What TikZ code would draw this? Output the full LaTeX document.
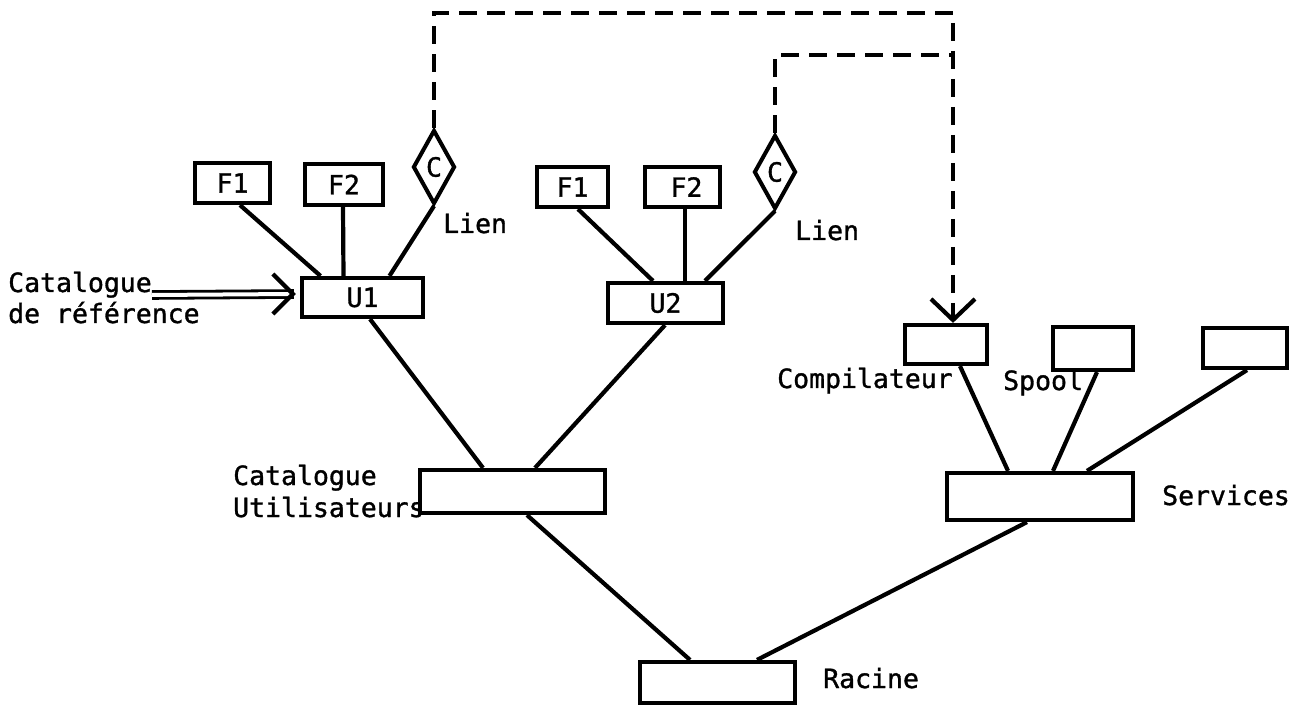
\documentclass[tikz,border=0pt]{standalone}
\usepackage{fontspec}
\usetikzlibrary{shapes.geometric,arrows.meta}
\newfontfamily\monofam[FakeBold=1.2]{DejaVu Sans Mono}
\newcommand\lbfont{\monofam\fontsize{26.5pt}{30pt}\selectfont}
\tikzset{
  box/.style={draw, line width=4.2pt, inner sep=0pt, font=\lbfont},
  lien/.style={draw, diamond, line width=4pt, inner sep=0pt, font=\lbfont, minimum width=42pt, minimum height=74pt},
  edge/.style={line width=4.2pt},
  dashlink/.style={line width=3.6pt, dash pattern=on 18pt off 10pt},
  lbl/.style={font=\lbfont, inner sep=0pt}
}
\begin{document}
\begin{tikzpicture}[x=1pt,y=-1pt]
\useasboundingbox (0,0) rectangle (1291,711);

% left user subtree
\node[box, minimum width=75pt, minimum height=40pt] (F1a) at (232.5,183) {F1};
\node[box, minimum width=78pt, minimum height=41pt] (F2a) at (344,184.5) {F2};
\node[lien] (Ca) at (434,167) {C};
\node[box, minimum width=121pt, minimum height=39pt] (U1) at (362.5,297.5) {U1};

% right user subtree
\node[box, minimum width=71pt, minimum height=40pt] (F1b) at (572.5,187) {F1};
\node[box, minimum width=75pt, minimum height=40pt] (F2b) at (682.5,187) {\hspace*{8pt}F2};
\node[lien] (Cb) at (775,172) {C};
\node[box, minimum width=115pt, minimum height=40pt] (U2) at (665.5,303) {U2};

% catalogue, racine, services
\node[box, minimum width=185pt, minimum height=43pt] (CU) at (512.5,491.5) {};
\node[box, minimum width=155pt, minimum height=41pt] (Rac) at (717.5,682.5) {};
\node[box, minimum width=82pt, minimum height=39pt] (Comp) at (946,344.5) {};
\node[box, minimum width=80pt, minimum height=43pt] (Spool) at (1093,348.5) {};
\node[box, minimum width=84pt, minimum height=40pt] (Third) at (1245,348) {};
\node[box, minimum width=186pt, minimum height=47pt] (Serv) at (1040,496.5) {};

% labels
\node[lbl, anchor=base west] (catref1) at (8,292) {Catalogue};
\node[lbl, anchor=base west] (catref2) at (8,323) {de référence};
\node[lbl, anchor=base west] (lienA) at (443,233) {Lien};
\node[lbl, anchor=base west] (lienB) at (795,240) {Lien};
\node[lbl, anchor=base west] (cu1) at (233,485) {Catalogue};
\node[lbl, anchor=base west] (cu2) at (233,517) {Utilisateurs};
\node[lbl, anchor=base west] (compl) at (777,388) {Compilateur};
\node[lbl, anchor=base west] (spooll) at (1003,390) {Spool};
\node[lbl, anchor=base west] (servl) at (1162,505) {Services};
\node[lbl, anchor=base west] (racl) at (823,688) {Racine};

% tree edges
\draw[edge] ([xshift=7.5pt]F1a.south) -- ([xshift=-42pt]U1.north);
\draw[edge] ([xshift=-1pt]F2a.south) -- ([xshift=-19pt]U1.north);
\draw[edge] (Ca.south) -- ([xshift=27pt]U1.north);
\draw[edge] ([xshift=5.5pt]F1b.south) -- ([xshift=-12.5pt]U2.north);
\draw[edge] ([xshift=2.5pt]F2b.south) -- ([xshift=19.5pt]U2.north);
\draw[edge] (Cb.south) -- ([xshift=39.5pt]U2.north);
\draw[edge] ([xshift=7.5pt]U1.south) -- ([xshift=-29.5pt]CU.north);
\draw[edge] ([xshift=-0.5pt]U2.south) -- ([xshift=22.5pt]CU.north);
\draw[edge] ([xshift=14.5pt]CU.south) -- ([xshift=-27.5pt]Rac.north);
\draw[edge] ([xshift=-13pt]Serv.south) -- ([xshift=39.5pt]Rac.north);
\draw[edge] ([xshift=14pt]Comp.south) -- ([xshift=-32pt]Serv.north);
\draw[edge] ([xshift=4pt]Spool.south) -- ([xshift=13pt]Serv.north);
\draw[edge] ([xshift=2pt]Third.south) -- ([xshift=47pt]Serv.north);

% dashed links
\coordinate (topR) at (953,13);
\coordinate (midR) at (953,55);
\draw[dashlink] (Ca.north) |- (topR) -- ([xshift=7pt]Comp.north);
\draw[line width=4.2pt, -{Straight Barb[length=21pt,width=44pt]}] ([xshift=7pt,yshift=2pt]Comp.north) -- ([xshift=7pt]Comp.north);
\draw[dashlink] (Cb.north) |- (midR);

% reference catalogue double arrow
\coordinate (refsrc) at (152,295);
\draw[line width=2.8pt, double distance=4pt] (refsrc) -- ([xshift=-6pt,yshift=3.5pt]U1.west);
\draw[line width=4.2pt, -{Straight Barb[length=20pt,width=40pt]}] ([xshift=-6pt,yshift=3.5pt]U1.west) -- ([xshift=-4pt,yshift=3.5pt]U1.west);
\end{tikzpicture}
\end{document}
